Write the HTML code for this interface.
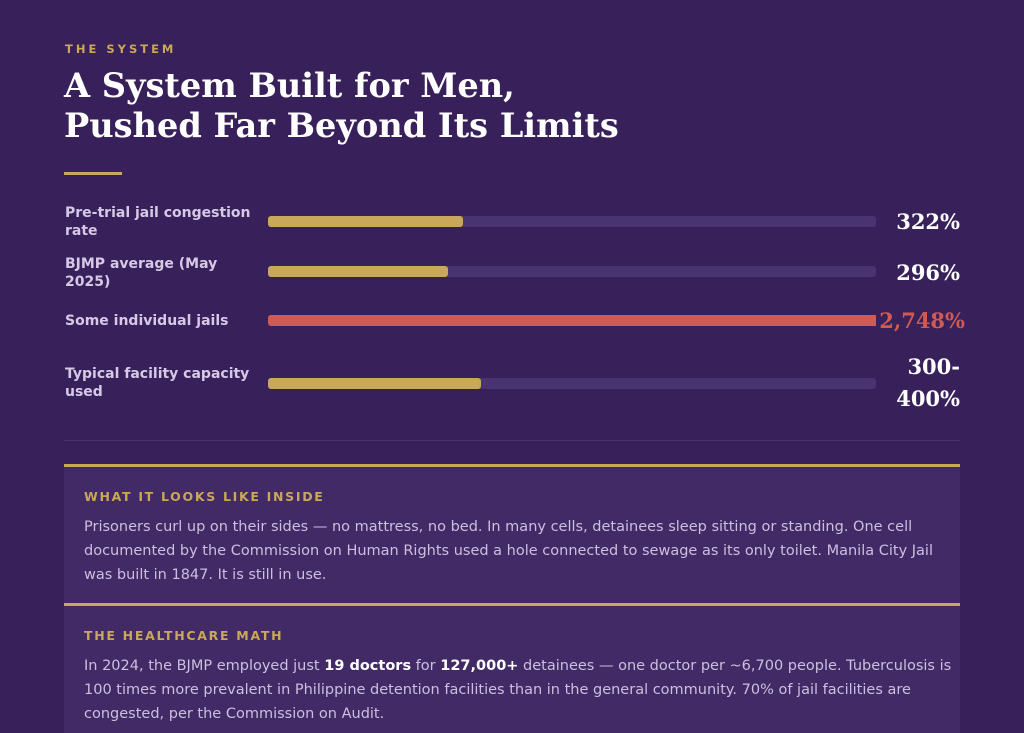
<!DOCTYPE html>
<html><head><meta charset="utf-8"><style>
html,body{margin:0;padding:0;}
body{width:1024px;height:733px;overflow:hidden;background:#38205b;position:relative;font-family:"DejaVu Sans","Liberation Sans",sans-serif;}
.a{position:absolute;}
.kicker{left:65px;top:42px;font-size:11.5px;font-weight:bold;letter-spacing:3px;color:#c9a85a;}
.title{left:64px;top:65px;font-family:"DejaVu Serif","Liberation Serif",serif;font-weight:bold;font-size:33.6px;line-height:40px;color:#fff;}
.rule{left:64px;top:172px;width:58px;height:3px;background:#c9a85a;}
.lab{left:65px;width:192px;font-size:14px;font-weight:bold;line-height:18px;color:#d7c9e6;}
.track{left:268px;width:608px;height:11px;border-radius:3px;background:#4a3371;}
.fill{position:absolute;left:0;top:0;height:11px;border-radius:3px;background:#c9a85a;}
.val{right:64px;text-align:right;font-family:"DejaVu Serif","Liberation Serif",serif;font-weight:bold;font-size:21px;line-height:32px;color:#fff;}
.div{left:64px;top:440px;width:896px;height:1px;background:#48326a;}
.card{left:64px;width:896px;background:#412a66;border-top:3px solid #c9a85a;}
.card h3{margin:0;position:absolute;left:20px;top:22px;font-size:12.5px;letter-spacing:1.7px;color:#c9a85a;font-weight:bold;}
.card p{margin:0;position:absolute;left:20px;top:48px;width:870px;font-size:14.5px;line-height:24px;color:#cdbfdf;}
.card b{color:#fff;}
</style></head><body>
<div class="a kicker">THE SYSTEM</div>
<div class="a title">A System Built for Men,<br>Pushed Far Beyond Its Limits</div>
<div class="a rule"></div>

<div class="a lab" style="top:204px">Pre-trial jail congestion rate</div>
<div class="a track" style="top:216px"><div class="fill" style="width:195px"></div></div>
<div class="a val" style="top:206px">322%</div>

<div class="a lab" style="top:255px">BJMP average (May 2025)</div>
<div class="a track" style="top:266px"><div class="fill" style="width:180px"></div></div>
<div class="a val" style="top:257px">296%</div>

<div class="a lab" style="top:312px">Some individual jails</div>
<div class="a track" style="top:315px"><div class="fill" style="width:608px;background:#d15b52;border-radius:3px 0 0 3px"></div></div>
<div class="a val" style="top:305px;right:59px;color:#d15b52">2,748%</div>

<div class="a lab" style="top:365px">Typical facility capacity used</div>
<div class="a track" style="top:378px"><div class="fill" style="width:213px"></div></div>
<div class="a val" style="top:351px">300-<br>400%</div>

<div class="a div"></div>

<div class="a card" style="top:464px;height:137px">
<h3>WHAT IT LOOKS LIKE INSIDE</h3>
<p>Prisoners curl up on their sides — no mattress, no bed. In many cells, detainees sleep sitting or standing. One cell documented by the Commission on Human Rights used a hole connected to sewage as its only toilet. Manila City Jail was built in 1847. It is still in use.</p>
</div>
<div class="a card" style="top:603px;height:127px">
<h3>THE HEALTHCARE MATH</h3>
<p>In 2024, the BJMP employed just <b>19 doctors</b> for <b>127,000+</b> detainees — one doctor per ~6,700 people. Tuberculosis is 100 times more prevalent in Philippine detention facilities than in the general community. 70% of jail facilities are congested, per the Commission on Audit.</p>
</div>
</body></html>
